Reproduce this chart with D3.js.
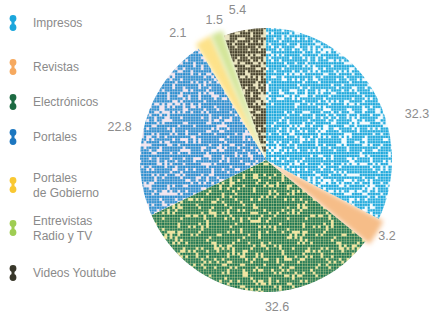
<!DOCTYPE html>
<html><head><meta charset="utf-8">
<script src="https://cdn.jsdelivr.net/npm/d3@7"></script>
<style>
body{margin:0;background:#fff}
svg{display:block}
text{font-family:"Liberation Sans",Arial,Helvetica,sans-serif}
</style>
</head><body>
<svg id="chart" width="432" height="314"></svg>
<script>
// ---- data ----
const categories = ["Impresos","Revistas","Electrónicos","Portales","Portales de Gobierno","Entrevistas Radio y TV","Videos Youtube"];
const legendLines = [["Impresos"],["Revistas"],["Electrónicos"],["Portales"],["Portales","de Gobierno"],["Entrevistas","Radio y TV"],["Videos Youtube"]];
const values = [32.3, 3.2, 32.6, 22.8, 2.1, 1.5, 5.4];
const valueLabels = ["32.3","3.2","32.6","22.8","2.1","1.5","5.4"];

// ---- styles / layout ----
const sliceStyle = {
  "Impresos": {type:"dots", fg:"#1ba8dc", bg:"#f4fbfe", density:0.78, seed:11},
  "Revistas": {type:"soft", fill:"#f6bd88"},
  "Electrónicos": {type:"dots", fg:"#1b7653", bg:"#f0e6a4", density:0.80, seed:23},
  "Portales": {type:"dots", fg:"#288ecf", bg:"#f2e6ef", density:0.78, seed:37},
  "Portales de Gobierno": {type:"soft", fill:"#fde28a"},
  "Entrevistas Radio y TV": {type:"soft", fill:"#d3e598"},
  "Videos Youtube": {type:"dots", fg:"#46412d", bg:"#ebe5c2", density:0.76, seed:53}
};
const legendColor = {
  "Impresos":"#1aa6dc","Revistas":"#f6a95e","Electrónicos":"#1c6b43","Portales":"#1f77c0",
  "Portales de Gobierno":"#f9c832","Entrevistas Radio y TV":"#9fcd52","Videos Youtube":"#38372a"
};
const legendY = [23, 67, 102, 137, 185, 228, 273];
const labelNudge = [ {a:14.6,r:158}, {a:0,r:143}, {a:-11,r:147}, {a:-3.8,r:150}, {a:-6,r:155}, {a:2,r:150}, {a:-1,r:153} ];

const cx = 266, cy = 160, R = 126, ry = 132;

const svg = d3.select("#chart");
const defs = svg.append("defs");

const f = defs.append("filter").attr("id","soft").attr("x","-20%").attr("y","-20%").attr("width","140%").attr("height","140%");
f.append("feGaussianBlur").attr("stdDeviation",2.6);
const f2 = defs.append("filter").attr("id","halo").attr("x","-50%").attr("y","-50%").attr("width","200%").attr("height","200%");
f2.append("feGaussianBlur").attr("stdDeviation",0.6);

function hash(i, j, s){
  let h = Math.imul(i + 1, 374761393) ^ Math.imul(j + 7, 668265263) ^ Math.imul(s, 2246822519);
  h = Math.imul(h ^ (h >>> 13), 1274126177);
  h ^= h >>> 16;
  return (h >>> 0) / 4294967296;
}
const pitch = 2.6, cells = 48, tile = pitch * cells;
categories.forEach((c, k) => {
  const st = sliceStyle[c];
  if (st.type !== "dots") return;
  const p = defs.append("pattern").attr("id","pat"+k).attr("patternUnits","userSpaceOnUse")
    .attr("width",tile).attr("height",tile);
  p.append("rect").attr("width",tile).attr("height",tile).attr("fill",st.bg);
  const cellsData = [];
  for (let i = 0; i < cells; i++) for (let j = 0; j < cells; j++)
    if (hash(i, j, st.seed) < st.density) cellsData.push([i, j]);
  p.selectAll("rect.c").data(cellsData).join("rect").attr("class","c")
    .attr("x", d => d[0]*pitch + 0.15).attr("y", d => d[1]*pitch + 0.15)
    .attr("width", pitch - 0.35).attr("height", pitch - 0.35).attr("fill", st.fg);
});

const pie = d3.pie().sort(null).value(d => d)(values);
const arc = d3.arc().innerRadius(0).outerRadius(R);
const softArc = d3.arc().innerRadius(0).outerRadius(R * 1.04);

const g = svg.append("g").attr("transform", `translate(${cx},${cy}) scale(1,${ry/R})`);
g.selectAll("path.soft").data(pie.filter((d,i) => sliceStyle[categories[i]].type === "soft"))
  .join("path").attr("class","soft")
  .attr("d", softArc)
  .attr("fill", d => sliceStyle[categories[d.index]].fill)
  .attr("filter","url(#soft)");
g.selectAll("path.dots").data(pie.filter((d,i) => sliceStyle[categories[i]].type === "dots"))
  .join("path").attr("class","dots")
  .attr("d", arc)
  .attr("fill", d => `url(#pat${d.index})`);

svg.append("g").selectAll("text").data(pie).join("text")
  .attr("x", (d,i) => { const a = (d.startAngle + d.endAngle)/2 + labelNudge[i].a*Math.PI/180; return cx + Math.sin(a)*labelNudge[i].r; })
  .attr("y", (d,i) => { const a = (d.startAngle + d.endAngle)/2 + labelNudge[i].a*Math.PI/180; return cy - Math.cos(a)*labelNudge[i].r; })
  .attr("dy","0.35em").attr("text-anchor","middle")
  .attr("font-size",12.5).attr("fill","#8c8c8c")
  .text((d,i) => valueLabels[i]);

const lg = svg.append("g");
categories.forEach((c, i) => {
  const y = legendY[i];
  const col = legendColor[c];
  const ic = lg.append("g").attr("filter","url(#halo)");
  ic.append("circle").attr("cx",13).attr("cy",y-4.5).attr("r",3.4).attr("fill",col);
  ic.append("circle").attr("cx",13).attr("cy",y+4.5).attr("r",3.4).attr("fill",col);
  ic.append("rect").attr("x",11.5).attr("y",y-4.5).attr("width",3).attr("height",9).attr("fill",col);
  const lines = legendLines[i];
  const off = lines.length === 1 ? [0] : [-7.5, 7.5];
  lines.forEach((t, k) => {
    lg.append("text").attr("x",33).attr("y",y + off[k]).attr("dy","0.35em")
      .attr("font-size",12).attr("fill","#8a8a8a").text(t);
  });
});
</script>
</body></html>
